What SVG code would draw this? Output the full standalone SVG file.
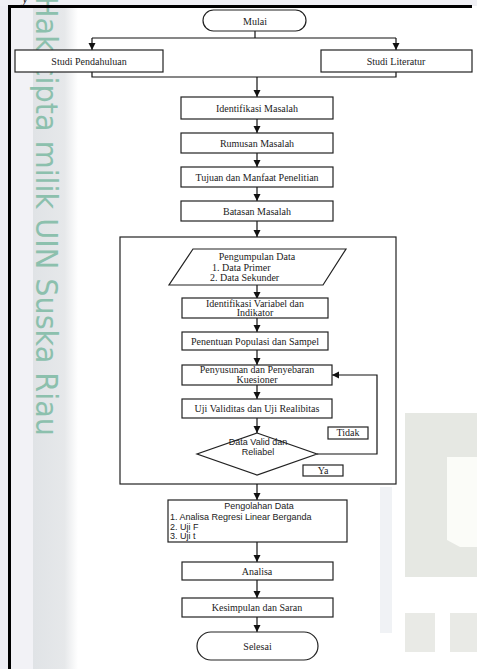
<svg xmlns="http://www.w3.org/2000/svg" width="477" height="669" viewBox="0 0 477 669">
<defs>
<marker id="arr" markerUnits="userSpaceOnUse" markerWidth="8" markerHeight="8" refX="7" refY="3.5" orient="auto">
<path d="M0,0 L7,3.5 L0,7 z" fill="#111"/>
</marker>
<linearGradient id="band" x1="0" y1="0" x2="1" y2="0">
<stop offset="0" stop-color="#e0e3e6"/>
<stop offset="0.7" stop-color="#e6e8ea"/>
<stop offset="1" stop-color="#ffffff"/>
</linearGradient>
</defs>
<style>
.box{fill:#fff;stroke:#222;stroke-width:1.2}
.t{font-family:"Liberation Serif","Times New Roman",serif;font-size:10px;fill:#222;text-anchor:middle}
.tl{font-family:"Liberation Serif","Times New Roman",serif;font-size:10px;fill:#222;text-anchor:middle}
.s{font-family:"Liberation Sans",Arial,sans-serif;font-size:9px;fill:#222}
.c{fill:none;stroke:#111;stroke-width:1.2}
.ca{fill:none;stroke:#111;stroke-width:1.2;marker-end:url(#arr)}
</style>
<!-- background / scan -->
<rect x="0" y="0" width="477" height="669" fill="#ffffff"/>
<rect x="0" y="0" width="10" height="669" fill="#eeeef4"/>
<rect x="0" y="0" width="477" height="6" fill="#f0f0f5"/>
<rect x="11" y="8" width="22" height="661" fill="#f2f2f6"/>
<rect x="33" y="8" width="45" height="661" fill="url(#band)"/>
<g id="watermark-logo" fill="#e6e8e3">
<rect x="405" y="413" width="72" height="164"/>
<polygon points="447,457 477,457 477,547 460,547 447,540" fill="#fbfcf8"/>
<rect x="405" y="613" width="30" height="39" fill="#e9eae6"/>
<rect x="450" y="613" width="27" height="39" fill="#e9eae6"/>
<rect x="380" y="487" width="12" height="146" fill="#f0f2f5"/>
</g>
<text x="0" y="0" transform="translate(36,-4) rotate(90)" font-family="'DejaVu Sans',Verdana,sans-serif" font-size="31" fill="#8cc0ad" textLength="440" lengthAdjust="spacingAndGlyphs">Hak cipta milik UIN Suska Riau</text>
<text x="22" y="3" font-family="'Liberation Serif',serif" font-style="italic" font-size="14" fill="#333">y</text>
<!-- page frame -->
<path d="M9.5,669 V6.5 H472" fill="none" stroke="#000" stroke-width="3"/>
<!-- big container -->
<rect id="container" x="120" y="237" width="276" height="247" fill="#fff" stroke="#222" stroke-width="1.2"/>

<g id="connectors">
<path class="c" d="M255,31 V38 M92,38 H396"/>
<path class="ca" d="M92,38 V50"/>
<path class="ca" d="M396,38 V50"/>
<path class="c" d="M92,72 V77 H396 V72"/>
<path class="ca" d="M257,77 V97"/>
<path class="ca" d="M257,119 V133"/>
<path class="ca" d="M257,153 V167"/>
<path class="ca" d="M257,187 V201"/>
<path class="ca" d="M257,221 V237"/>
<path class="ca" d="M257,285 V299"/>
<path class="ca" d="M257,318 V332"/>
<path class="ca" d="M257,350 V365"/>
<path class="ca" d="M257,385 V399"/>
<path class="ca" d="M257,418 V433"/>
<path class="ca" d="M317,454 H377 V375 H332"/>
<path class="ca" d="M257,484 V500"/>
<path class="ca" d="M257,542 V562"/>
<path class="ca" d="M257,580 V598"/>
<path class="ca" d="M257,617 V632"/>
</g>

<g id="mulai"><rect class="box" x="203" y="10" width="103" height="21" rx="10.5"/><text class="t" x="255" y="24.5">Mulai</text></g>
<g id="studi-pendahuluan"><rect class="box" x="15" y="50" width="148" height="22"/><text class="t" x="89" y="64.5">Studi Pendahuluan</text></g>
<g id="studi-literatur"><rect class="box" x="321" y="50" width="151" height="22"/><text class="t" x="396" y="64.5">Studi Literatur</text></g>
<g id="identifikasi-masalah"><rect class="box" x="181" y="97" width="152" height="22"/><text class="t" x="257" y="111.5">Identifikasi Masalah</text></g>
<g id="rumusan-masalah"><rect class="box" x="181" y="133" width="152" height="20"/><text class="t" x="257" y="146.5">Rumusan Masalah</text></g>
<g id="tujuan"><rect class="box" x="181" y="167" width="152" height="20"/><text class="t" x="257" y="180.5">Tujuan dan Manfaat Penelitian</text></g>
<g id="batasan-masalah"><rect class="box" x="181" y="201" width="152" height="20"/><text class="t" x="257" y="214.5">Batasan Masalah</text></g>

<g id="pengumpulan-data"><polygon class="box" points="193,249 346,249 323,285 169,285"/>
<text class="tl" x="257" y="260">Pengumpulan Data</text>
<text class="tl" x="212" y="270.5" style="text-anchor:start">1. Data Primer</text>
<text class="tl" x="210" y="281" style="text-anchor:start">2. Data Sekunder</text></g>
<g id="identifikasi-variabel"><rect class="box" x="182" y="298" width="146" height="20"/>
<text class="tl" x="255" y="306.5">Identifikasi Variabel dan</text>
<text class="tl" x="255" y="316">Indikator</text></g>
<g id="penentuan-populasi"><rect class="box" x="182" y="332" width="146" height="18"/><text class="tl" x="255" y="344.5">Penentuan Populasi dan Sampel</text></g>
<g id="penyusunan"><rect class="box" x="182" y="365" width="150" height="20"/>
<text class="tl" x="257" y="373">Penyusunan dan Penyebaran</text>
<text class="tl" x="257" y="382.5">Kuesioner</text></g>
<g id="uji-validitas"><rect class="box" x="182" y="399" width="150" height="19"/><text class="tl" x="257" y="412">Uji Validitas dan Uji Realibitas</text></g>
<g id="data-valid"><polygon class="box" points="257,433 317,454 257,475 197,454"/>
<text class="s" x="258" y="444.5" text-anchor="middle" font-size="8.5">Data Valid dan</text>
<text class="s" x="258" y="454.5" text-anchor="middle" font-size="8.5">Reliabel</text></g>
<g id="tidak"><rect class="box" x="328" y="427" width="40" height="12"/><text class="t" x="348" y="436" font-size="9">Tidak</text></g>
<g id="ya"><rect class="box" x="303" y="465" width="40" height="11"/><text class="t" x="323" y="474" font-size="9">Ya</text></g>

<g id="pengolahan-data"><rect class="box" x="168" y="500" width="179" height="42"/>
<text class="s" x="259" y="509" text-anchor="middle">Pengolahan Data</text>
<text class="s" x="170" y="520">1. Analisa Regresi Linear Berganda</text>
<text class="s" x="170" y="529.5">2. Uji F</text>
<text class="s" x="170" y="539">3. Uji t</text></g>
<g id="analisa"><rect class="box" x="182" y="562" width="151" height="18"/><text class="tl" x="257" y="574.5">Analisa</text></g>
<g id="kesimpulan"><rect class="box" x="182" y="598" width="151" height="19"/><text class="tl" x="257" y="611">Kesimpulan dan Saran</text></g>
<g id="selesai"><rect class="box" x="197" y="632" width="121" height="28" rx="14"/><text class="tl" x="257.5" y="649.5">Selesai</text></g>
</svg>
